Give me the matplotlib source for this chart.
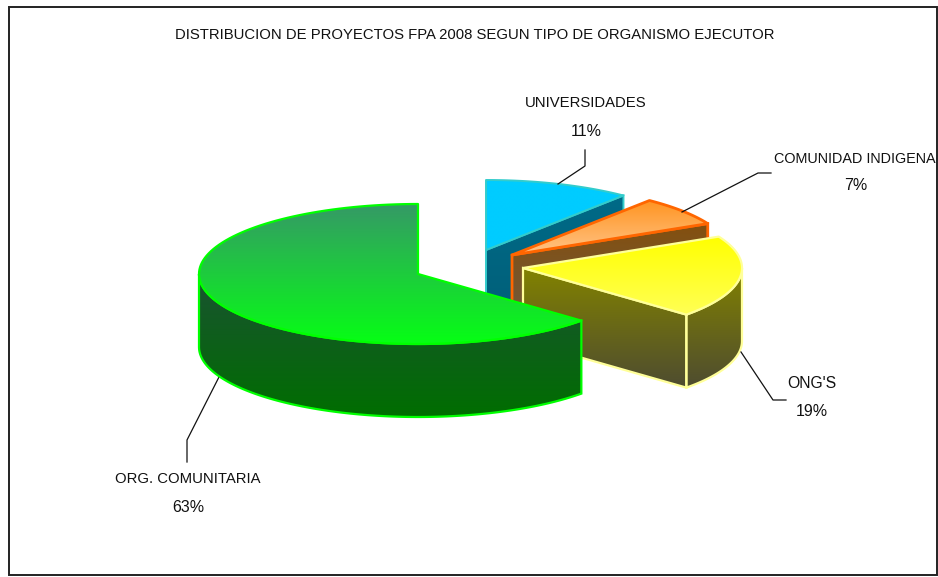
import numpy as np
import matplotlib
matplotlib.use("Agg")
import matplotlib.pyplot as plt
from matplotlib.patches import Polygon, Rectangle
from matplotlib.colors import LinearSegmentedColormap

TITLE = "DISTRIBUCION DE PROYECTOS FPA 2008 SEGUN TIPO DE ORGANISMO EJECUTOR"
categories = ["UNIVERSIDADES", "COMUNIDAD INDIGENA", "ONG'S", "ORG. COMUNITARIA"]
values = [10.8, 6.8, 19.0, 63.4]

plt.rcParams["font.family"] = ["Liberation Sans", "DejaVu Sans"]

# slice apex positions on the canvas (exploded pie), ellipse radii and thickness
apex = [(486, 250), (512, 255), (523, 268), (418, 274)]
RX, RY, DEPTH = 219, 70, 73
top_grad = [("#00CCFF", "#00CCFF"), ("#FF9420", "#FFC488"), ("#FFFF00", "#FFFF55"), ("#359966", "#06FF14")]
side_grad = [("#006A88", "#005F78"), ("#84500E", "#6E5A42"), ("#828200", "#4E4C30"), ("#1A5232", "#006E00")]
edge_col = ["#33CCCC", "#FF6600", "#FFFF99", "#00FF00"]
edge_lw = [1.4, 2.0, 1.6, 1.6]
side_edge = ["#33CCCC", "#FF6600", "#FFFF99", "#00FF00"]
# label centres, sizes and leader lines
label_xy = [(586, 103, 586, 131), (855, 159, 856, 186), (812, 384, 812, 412), (188, 479, 188, 507)]
label_size = [10.75, 10.35, 11.3, 10.75]
leaders = [[(558, 184), (585, 166), (585, 150)],
           [(682, 212), (758, 173), (771, 173)],
           [(741, 352), (773, 400), (786, 400)],
           [(219, 377), (187, 440), (187, 462)]]

fig = plt.figure(figsize=(9.38, 5.77), dpi=100, facecolor="white")
ax = fig.add_axes([0, 0, 1, 1])
ax.set_xlim(0, 938)
ax.set_ylim(577, 0)
ax.axis("off")
ax.add_patch(Rectangle((9, 7), 928, 568, fc="white", ec="#222222", lw=1.4, zorder=0))


def gradient_fill(pts, c0, c1, z):
    pts = np.asarray(pts)
    poly = Polygon(pts, closed=True, fc="none", ec="none", zorder=z)
    ax.add_patch(poly)
    cm = LinearSegmentedColormap.from_list("g", [c0, c1])
    g = np.linspace(0, 1, 256).reshape(-1, 1)
    y0, y1 = pts[:, 1].min(), pts[:, 1].max()
    x0, x1 = pts[:, 0].min(), pts[:, 0].max()
    im = ax.imshow(g, cmap=cm, extent=(x0, x1, y1, y0), aspect="auto",
                   interpolation="bilinear", zorder=z, origin="upper")
    im.set_clip_path(poly)


def ell(cx, cy, a):
    return np.column_stack([cx + RX * np.sin(a), cy - RY * np.cos(a)])


total = sum(values)
start = 0.0
for i, v in enumerate(values):
    end = start + v / total * 2 * np.pi
    cx, cy = apex[i]
    z = 2 + i * 3
    arc = ell(cx, cy, np.linspace(start, end, 120))
    down = np.array([0, DEPTH])
    c = np.array([cx, cy], float)
    # visible sides
    faces = []
    if start < np.pi / 2 < end or end < np.pi:
        # radial face on the clockwise end
        p = arc[-1]
        faces.append([c, p, p + down, c + down])
    # outer wall (front half of the ellipse plus left part)
    a0, a1 = max(start, np.pi / 2), min(end, 3 * np.pi / 2)
    if a1 > a0:
        wall = ell(cx, cy, np.linspace(a0, a1, 120))
        faces.append(np.vstack([wall, (wall + down)[::-1]]))
    for f in faces:
        gradient_fill(f, side_grad[i][0], side_grad[i][1], z)
        ax.add_patch(Polygon(f, closed=True, fc="none", ec=side_edge[i], lw=edge_lw[i], zorder=z + 0.1))
    topface = np.vstack([c, arc])
    gradient_fill(topface, top_grad[i][0], top_grad[i][1], z + 1)
    ax.add_patch(Polygon(topface, closed=True, fc="none", ec=edge_col[i], lw=edge_lw[i],
                         joinstyle="round", zorder=z + 1.1))
    start = end

for i, name in enumerate(categories):
    xs, ys = zip(*leaders[i])
    ax.plot(xs, ys, color="#111111", lw=0.9, zorder=1 if i == 3 else 20)
    lx, ly, px, py = label_xy[i]
    ax.text(lx, ly, name, ha="center", va="center", fontsize=label_size[i], color="#111111", zorder=30)
    ax.text(px, py, f"{values[i]:.0f}%", ha="center", va="center", fontsize=11.5, color="#111111", zorder=30)

ax.text(474.5, 35, TITLE, ha="center", va="center", fontsize=10.7, color="#111111", zorder=30)
ax.set_xlim(0, 938)
ax.set_ylim(577, 0)
fig.savefig("out.png", dpi=100, facecolor="white")
